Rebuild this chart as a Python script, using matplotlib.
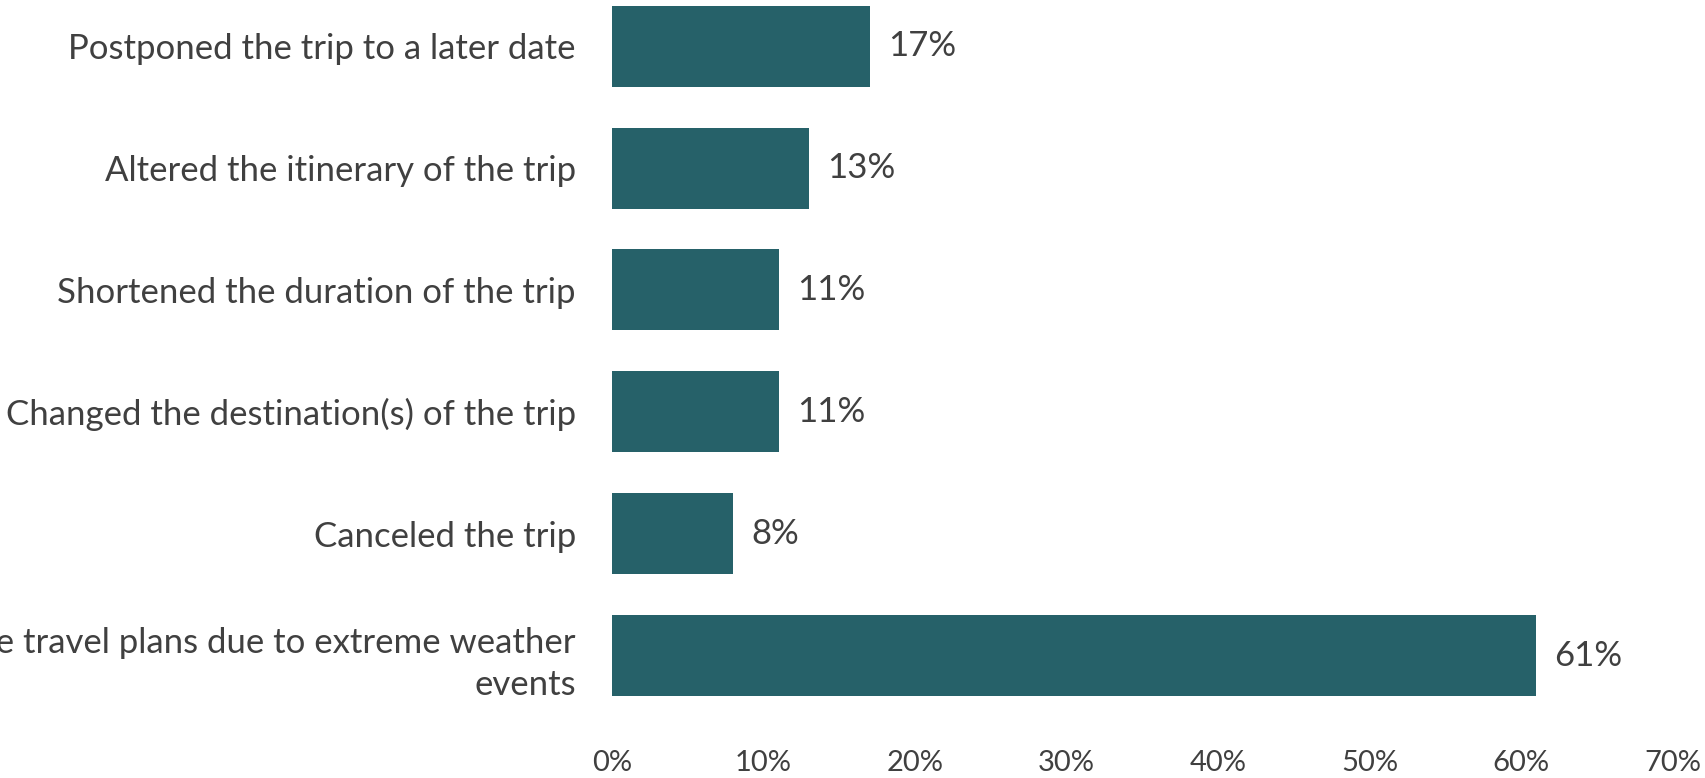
import matplotlib.pyplot as plt
from matplotlib.ticker import FuncFormatter

categories = [
    "Postponed the trip to a later date",
    "Altered the itinerary of the trip",
    "Shortened the duration of the trip",
    "Changed the destination(s) of the trip",
    "Canceled the trip",
    "Did not change travel plans due to extreme weather\nevents",
]
shares = [17, 13, 11, 11, 8, 61]
x_ticks = [0, 10, 20, 30, 40, 50, 60, 70]

bar_color = "#266169"
text_color = "#404040"
plt.rcParams["font.family"] = ["Lato", "DejaVu Sans"]

fig = plt.figure(figsize=(17.05, 7.78), dpi=100)
ax = fig.add_axes([0.359, 0.079, 0.622, 0.94])

y = list(range(len(categories)))
bars = ax.barh(y, shares, height=0.665, color=bar_color)

for b, v in zip(bars, shares):
    ax.text(b.get_width() + 1.2, b.get_y() + b.get_height() / 2, f"{v}%",
            va="center", ha="left", fontsize=25, color=text_color)

ax.set_yticks(y)
ax.set_yticklabels(categories, fontsize=25, color=text_color, ha="right",
                   linespacing=1.4)
ax.set_ylim(len(categories) - 0.5, -0.5)
ax.set_xlim(0, 70)
ax.set_xticks(x_ticks)
ax.xaxis.set_major_formatter(FuncFormatter(lambda v, p: f"{v:.0f}%"))
ax.tick_params(axis="x", labelsize=21, labelcolor=text_color, length=0, pad=24)
ax.tick_params(axis="y", length=0, pad=26)
for s in ax.spines.values():
    s.set_visible(False)

plt.savefig("out.png", dpi=100)
